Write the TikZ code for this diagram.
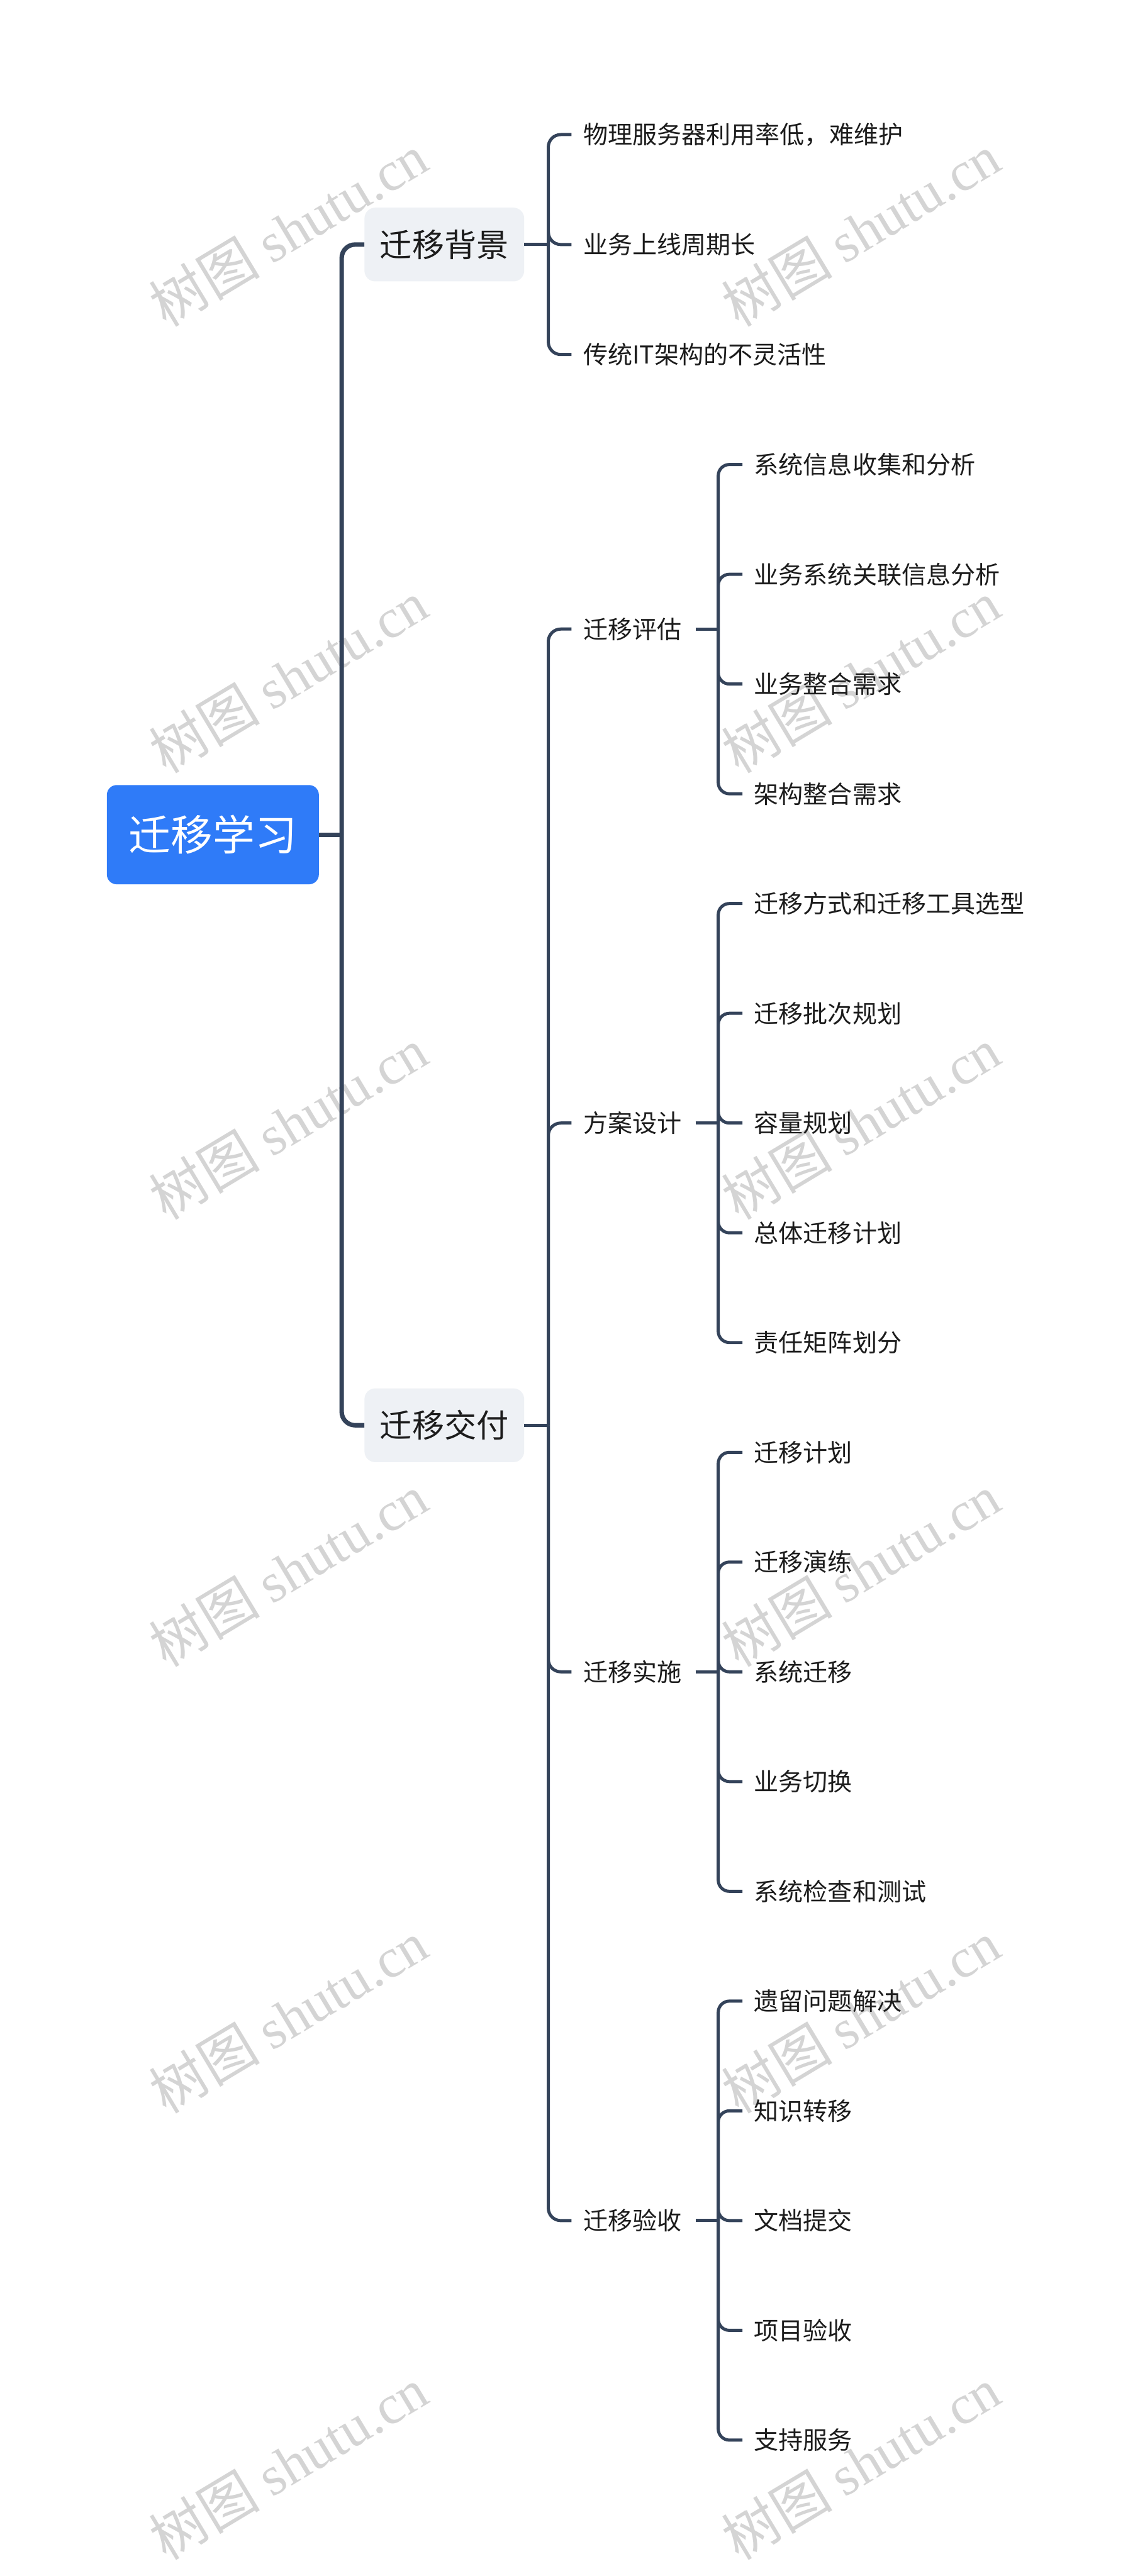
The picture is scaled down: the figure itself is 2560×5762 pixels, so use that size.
\documentclass[tikz,border=0pt]{standalone}
\usepackage{fontspec}
\setmainfont{Noto Sans CJK SC}
\newfontfamily\wmlat{Liberation Serif}
\definecolor{linec}{HTML}{34435A}
\definecolor{rootc}{HTML}{2F7BF8}
\definecolor{boxc}{HTML}{EEF1F5}
\definecolor{txtc}{HTML}{1C1C1C}
\definecolor{wmc}{HTML}{D4D4D4}
\tikzset{
 trunk/.style={draw=linec, line width=10pt},
 sub/.style={draw=linec, line width=7pt},
 rootbox/.style={fill=rootc, rounded corners=22pt, text=white, font=\fontsize{94}{110}\selectfont, text height=71pt, text depth=0pt, minimum width=474pt, minimum height=222pt, inner sep=0pt},
 mainbox/.style={fill=boxc, rounded corners=24pt, text=txtc, font=\fontsize{72}{86}\selectfont, text height=55pt, text depth=0pt, minimum width=357pt, minimum height=165pt, inner sep=0pt},
 item/.style={anchor=west, inner sep=0pt, text=txtc, font=\fontsize{55}{66}\selectfont, text height=42pt, text depth=0pt},
 wm/.style={text=wmc, font=\fontsize{124}{130}\selectfont, rotate=31, inner sep=0pt}
}
\begin{document}
\begin{tikzpicture}[x=1pt,y=-1pt]
\fill[white] (0,0) rectangle (2560,5762);
\useasboundingbox (0,0) rectangle (2560,5762);
% watermarks
\foreach \k in {0,...,5}{
  \node[wm] (wl\k) at (645,{515+999*\k}) {树图 {\wmlat shutu.cn}};
  \node[wm] (wr\k) at (1925,{515+999*\k}) {树图 {\wmlat shutu.cn}};
}
% root and main boxes
\node[rootbox] (root) at (476,1867) {迁移学习};
\node[mainbox] (bg) at (993.5,547) {迁移背景};
\node[mainbox] (jf) at (993.5,3188) {迁移交付};
% level 2 under bg
\node[item] (c1) at (1304,301) {物理服务器利用率低，难维护};
\node[item] (c2) at (1304,547) {业务上线周期长};
\node[item] (c3) at (1304,793) {传统IT架构的不灵活性};
% level 2 under jf
\node[item] (p1) at (1304,1407) {迁移评估};
\node[item] (p2) at (1304,2512) {方案设计};
\node[item] (p3) at (1304,3739.5) {迁移实施};
\node[item] (p4) at (1304,4967) {迁移验收};
% leaves
\node[item] (l0) at (1686,1039) {系统信息收集和分析};
\node[item] (l1) at (1686,1284.5) {业务系统关联信息分析};
\node[item] (l2) at (1686,1530) {业务整合需求};
\node[item] (l3) at (1686,1775.5) {架构整合需求};
\node[item] (l4) at (1686,2021) {迁移方式和迁移工具选型};
\node[item] (l5) at (1686,2266.5) {迁移批次规划};
\node[item] (l6) at (1686,2512) {容量规划};
\node[item] (l7) at (1686,2757.5) {总体迁移计划};
\node[item] (l8) at (1686,3003) {责任矩阵划分};
\node[item] (l9) at (1686,3248.5) {迁移计划};
\node[item] (l10) at (1686,3494) {迁移演练};
\node[item] (l11) at (1686,3739.5) {系统迁移};
\node[item] (l12) at (1686,3985) {业务切换};
\node[item] (l13) at (1686,4230.5) {系统检查和测试};
\node[item] (l14) at (1686,4476) {遗留问题解决};
\node[item] (l15) at (1686,4721.5) {知识转移};
\node[item] (l16) at (1686,4967) {文档提交};
\node[item] (l17) at (1686,5212.5) {项目验收};
\node[item] (l18) at (1686,5458) {支持服务};
% trunk
\coordinate (t0) at (764,1867);
\draw[trunk] (root.east) -- (t0);
\draw[trunk, rounded corners=30pt] (t0) |- (bg.west);
\draw[trunk, rounded corners=30pt] (t0) |- (jf.west);
% bg bracket
\coordinate (b0) at (1226,547);
\draw[sub] (bg.east) -- (b0);
\foreach \c in {c1,c2,c3}{
  \draw[sub, rounded corners=28pt] (b0) |- ([xshift=-26pt]\c.west);
}
% jf bracket
\coordinate (b1) at (1226,3188);
\draw[sub] (jf.east) -- (b1);
\foreach \c in {p1,p2,p3,p4}{
  \draw[sub, rounded corners=28pt] (b1) |- ([xshift=-26pt]\c.west);
}
% level 2 brackets
\coordinate (bp1) at (1606,1407);
\coordinate (bp2) at (1606,2512);
\coordinate (bp3) at (1606,3739.5);
\coordinate (bp4) at (1606,4967);
\draw[sub] ([xshift=31pt]p1.east) -- (bp1);
\draw[sub] ([xshift=31pt]p2.east) -- (bp2);
\draw[sub] ([xshift=31pt]p3.east) -- (bp3);
\draw[sub] ([xshift=31pt]p4.east) -- (bp4);
\foreach \l in {l0,l1,l2,l3}{\draw[sub, rounded corners=25pt] (bp1) |- ([xshift=-26pt]\l.west);}
\foreach \l in {l4,l5,l6,l7,l8}{\draw[sub, rounded corners=25pt] (bp2) |- ([xshift=-26pt]\l.west);}
\foreach \l in {l9,l10,l11,l12,l13}{\draw[sub, rounded corners=25pt] (bp3) |- ([xshift=-26pt]\l.west);}
\foreach \l in {l14,l15,l16,l17,l18}{\draw[sub, rounded corners=25pt] (bp4) |- ([xshift=-26pt]\l.west);}
\end{tikzpicture}
\end{document}
